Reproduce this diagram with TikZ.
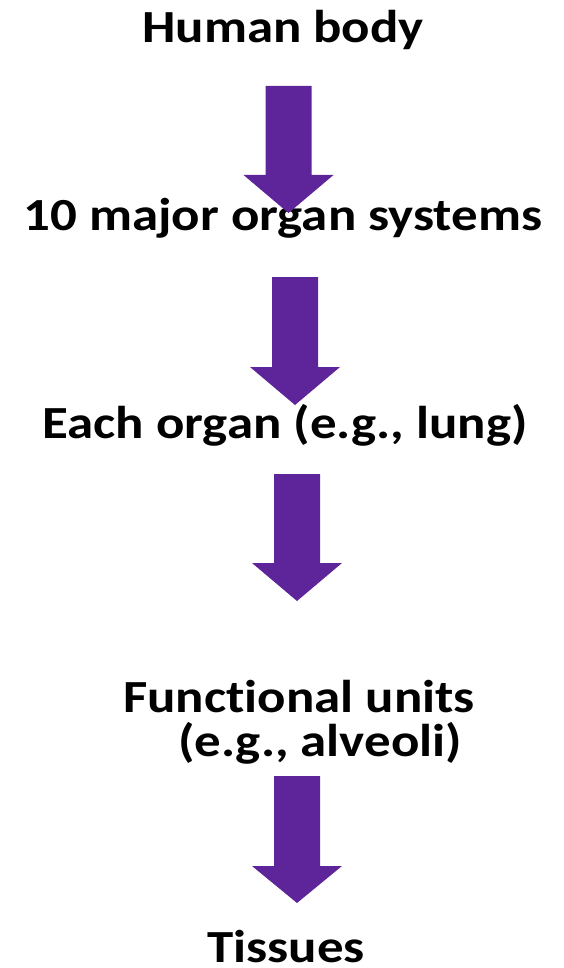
\documentclass[tikz,border=0pt]{standalone}
\usepackage{fontspec}
\setmainfont{Carlito}[FakeStretch=1.15,Ligatures=NoCommon]
\definecolor{arrowpurple}{RGB}{94,37,155}
% block arrow: centre x, shaft top, head start, tip
\newcommand\blockdown[4]{%
  \fill[arrowpurple] (#1-23,#2) -- (#1+23,#2) -- (#1+23,#3) -- (#1+45,#3)
    -- (#1,#4) -- (#1-45,#3) -- (#1-23,#3) -- cycle;}
\begin{document}
\begin{tikzpicture}[x=1pt,y=-1pt,
  level/.style={anchor=base,font=\fontsize{46}{55}\selectfont\bfseries,inner sep=0pt}]
\useasboundingbox (0,0) rectangle (564,968);
\node[level] (body) at (283,43) {Human body};
\node[level] (systems) at (283,231) {10 major organ systems};
\node[level] (organ) at (285,438) {Each organ (e.g., lung)};
\node[level] (units) at (299,712) {Functional units};
\node[level] (unitsex) at (320,756) {(e.g., alveoli)};
\node[level] (tissues) at (286,962) {Tissues};
\blockdown{288.5}{86}{175}{213}
\blockdown{295}{277}{367}{405}
\blockdown{297}{474}{563}{601}
\blockdown{297}{776}{866}{903}
\end{tikzpicture}
\end{document}
